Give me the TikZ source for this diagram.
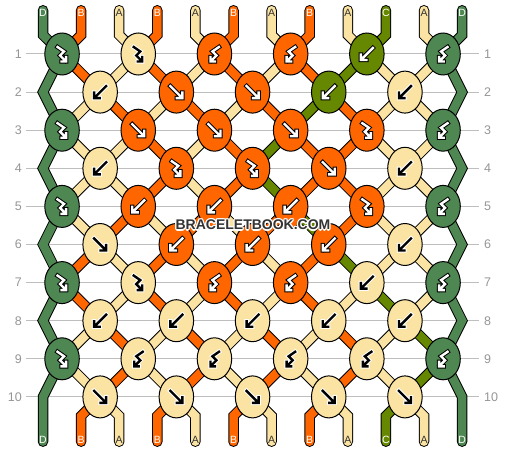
\documentclass[tikz,border=0pt]{standalone}
\usepackage{fontspec}
\setmainfont{Liberation Sans}
\usetikzlibrary{shapes.geometric}
\pgfdeclarelayer{bg}
\pgfsetlayers{bg,main}
\definecolor{colD}{HTML}{4E8752}
\definecolor{colB}{HTML}{FF6600}
\definecolor{colA}{HTML}{FAE3A3}
\definecolor{colC}{HTML}{668800}
\colorlet{fgD}{white}\colorlet{fgB}{white}\colorlet{fgC}{white}\colorlet{fgA}{black}
\colorlet{olD}{black}\colorlet{olB}{black}\colorlet{olC}{black}\colorlet{olA}{white}
\definecolor{labD}{HTML}{FFFFFF}\definecolor{labB}{HTML}{FFFFFF}
\definecolor{labC}{HTML}{FFFFFF}\definecolor{labA}{HTML}{333333}
\definecolor{gridgray}{HTML}{BEBEBE}
\definecolor{numgray}{HTML}{969696}
\definecolor{wmgray}{HTML}{333333}
\tikzset{
 knot/.style={ellipse, draw=black, line width=1pt, minimum width=34.5pt, minimum height=42pt, inner sep=0pt},
 strand/.style={draw=black, line width=1pt, double distance=8.5pt, line cap=round, line join=miter},
 arrout/.style={line width=4.4pt, line cap=rect, line join=miter},
 arrin/.style={line width=2.4pt, line cap=rect, line join=miter},
 rowlab/.style={font=\fontsize{12.5}{12.5}\selectfont, text=numgray, inner sep=0pt},
 strlab/.style={font=\fontsize{10.5}{10.5}\selectfont, inner sep=0pt},
 gridline/.style={draw=gridgray, line width=1pt},
 wmtext/.style={font=\bfseries\fontsize{14}{14}\selectfont, inner sep=0pt},
}
\newcommand\drawarrF[2]{%
 \draw[arrout,draw=#2] (-6,-6)--(5.2,5.2) (0.5,6)--(6,6)--(6,0.5);
 \draw[arrin,draw=#1] (-6,-6)--(5.2,5.2) (0.5,6)--(6,6)--(6,0.5);}
\newcommand\drawarrB[2]{%
 \draw[arrout,draw=#2] (6,-6)--(-5.2,5.2) (-0.5,6)--(-6,6)--(-6,0.5);
 \draw[arrin,draw=#1] (6,-6)--(-5.2,5.2) (-0.5,6)--(-6,6)--(-6,0.5);}
\newcommand\drawarrFB[2]{%
 \draw[arrout,draw=#2] (-4.5,-7)--(2,-2.5)--(-2,1.5)--(3.3,6.8) (-0.5,7.5)--(4,7.5)--(4,3);
 \draw[arrin,draw=#1] (-4.5,-7)--(2,-2.5)--(-2,1.5)--(3.3,6.8) (-0.5,7.5)--(4,7.5)--(4,3);}
\newcommand\drawarrBF[2]{%
 \draw[arrout,draw=#2] (4.5,-7)--(-2,-2.5)--(2,1.5)--(-3.3,6.8) (0.5,7.5)--(-4,7.5)--(-4,3);
 \draw[arrin,draw=#1] (4.5,-7)--(-2,-2.5)--(2,1.5)--(-3.3,6.8) (0.5,7.5)--(-4,7.5)--(-4,3);}
\begin{document}
\begin{tikzpicture}[x={(1pt,0pt)}, y={(0pt,-1pt)}]
\useasboundingbox (0,0) rectangle (506,452);
% knots
\foreach \rr/\lst in {
 1/{D/FB,A/FB,B/BF,B/BF,C/B,D/BF},
 2/{A/B,B/F,B/F,C/B,A/B},
 3/{D/FB,B/F,B/F,B/F,B/FB,D/BF},
 4/{A/B,B/FB,B/FB,B/F,A/B},
 5/{D/FB,B/B,B/B,B/B,B/FB,D/BF},
 6/{A/F,B/B,B/B,B/B,A/B},
 7/{D/FB,A/FB,B/BF,B/BF,A/B,D/BF},
 8/{A/B,A/B,A/B,A/B,A/B},
 9/{D/FB,A/BF,A/BF,A/BF,A/BF,D/BF},
 10/{A/F,A/F,A/F,A/F,A/F}}{
 \foreach \cl/\ty [count=\kk] in \lst {
  \ifodd\rr\relax
   \pgfmathsetmacro\kx{43+38.1*(2*\kk-1.5)}
  \else
   \pgfmathsetmacro\kx{43+38.1*(2*\kk-0.5)}
  \fi
  \pgfmathsetmacro\ky{54+38.1*(\rr-1)}
  \node[knot, fill=col\cl] (k\rr-\kk) at (\kx,\ky) {};
  \begin{scope}[shift={(k\rr-\kk.center)}]
   \csname drawarr\ty\endcsname{fg\cl}{ol\cl}
  \end{scope}
 }
}
% row labels and grid end points
\foreach \rr in {1,...,10}{
 \pgfmathsetmacro\ky{54+38.1*(\rr-1)}
 \node[rowlab, anchor=east] (ll\rr) at (22,\ky) {\rr};
 \node[rowlab, anchor=west] (rl\rr) at (484,\ky) {\rr};
 \coordinate (gl\rr) at (26,\ky);
 \coordinate (gr\rr) at (479,\ky);
 \coordinate (zl\rr) at (43,\ky);
 \coordinate (zr\rr) at (462.1,\ky);
}
% string end points
\foreach \cl [count=\pp] in {D,B,A,B,A,B,A,B,A,C,A,D}{
 \pgfmathsetmacro\sx{43+38.1*(\pp-1)}
 \coordinate (top\pp) at (\sx,10.25);
 \coordinate (bend\pp) at (\sx,35);
 \coordinate (bb\pp) at (\sx,415.95);
 \coordinate (bot\pp) at (\sx,441.7);
}
\begin{pgfonlayer}{bg}
 \fill[white] (0,0) rectangle (506,452);
 \foreach \rr in {1,...,10}{ \draw[gridline] (gl\rr) -- (gr\rr); }
 % edge strings
 \draw[strand, double=colD] (top1) -- (bend1) -- (k1-1.center) -- (zl2) -- (k3-1.center) -- (zl4) -- (k5-1.center) -- (zl6) -- (k7-1.center) -- (zl8) -- (k9-1.center) -- (zl10) -- (bot1);
 \draw[strand, double=colD] (top12) -- (bend12) -- (k1-6.center) -- (zr2) -- (k3-6.center) -- (zr4) -- (k5-6.center) -- (zr6) -- (k7-6.center) -- (zr8) -- (k9-6.center) -- (zr10) -- (bot12);
 % top strings
 \foreach \cl/\ki [count=\pp from 2] in {B/1,A/2,B/2,A/3,B/3,A/4,B/4,A/5,C/5,A/6}{
  \draw[strand, double=col\cl] (top\pp) -- (bend\pp) -- (k1-\ki.center);
 }
 % bottom strings
 \foreach \cl/\ki [count=\pp from 2] in {B/1,A/1,B/2,A/2,B/3,A/3,B/4,A/4,C/5,A/5}{
  \draw[strand, double=col\cl] (k10-\ki.center) -- (bb\pp) -- (bot\pp);
 }
 % strands between knots
 \foreach \rr/\st in {
  1/{D,B,A,B,A,B,A,B,C,A,A,D},
  2/{D,A,B,A,B,A,B,C,B,A,A,D},
  3/{D,A,A,B,A,B,C,B,B,A,A,D},
  4/{D,A,A,B,A,B,C,B,B,A,A,D},
  5/{D,A,B,A,B,A,B,C,B,A,A,D},
  6/{D,B,A,B,A,B,A,B,C,A,A,D},
  7/{D,B,A,B,A,B,A,B,A,C,A,D},
  8/{D,A,B,A,B,A,B,A,B,A,C,D},
  9/{D,A,B,A,B,A,B,A,B,A,C,D}}{
  \pgfmathtruncatemacro\rn{\rr+1}
  \foreach \cl [count=\pp] in \st {
   \ifnum\pp>1\relax\ifnum\pp<12\relax
    \ifodd\rr\relax
     \pgfmathtruncatemacro\ia{floor((\pp-1)/2)+1}
     \pgfmathtruncatemacro\ib{floor((\pp-2)/2)+1}
    \else
     \pgfmathtruncatemacro\ia{floor((\pp-2)/2)+1}
     \pgfmathtruncatemacro\ib{floor((\pp-1)/2)+1}
    \fi
    \draw[strand, double=col\cl] (k\rr-\ia.center) -- (k\rn-\ib.center);
   \fi\fi
  }
 }
\end{pgfonlayer}
% string labels
\foreach \cl [count=\pp] in {D,B,A,B,A,B,A,B,A,C,A,D}{
 \pgfmathsetmacro\sx{43+38.1*(\pp-1)}
 \node[strlab, text=lab\cl] (tl\pp) at (\sx,12.5) {\cl};
}
\foreach \cl [count=\pp] in {D,B,A,B,A,B,A,B,A,C,A,D}{
 \pgfmathsetmacro\sx{43+38.1*(\pp-1)}
 \node[strlab, text=lab\cl] (bl\pp) at (\sx,439.5) {\cl};
}
% watermark with white halo
\foreach \dx/\dy [count=\hh] in {-1.2/0,1.2/0,0/-1.2,0/1.2,-0.9/-0.9,0.9/0.9,-0.9/0.9,0.9/-0.9}{
 \node[wmtext, text=white] (wmh\hh) at ({253+\dx},{225+\dy}) {BRACELETBOOK.COM};
}
\node[wmtext, text=wmgray] (wm) at (253,225) {BRACELETBOOK.COM};
\end{tikzpicture}
\end{document}
